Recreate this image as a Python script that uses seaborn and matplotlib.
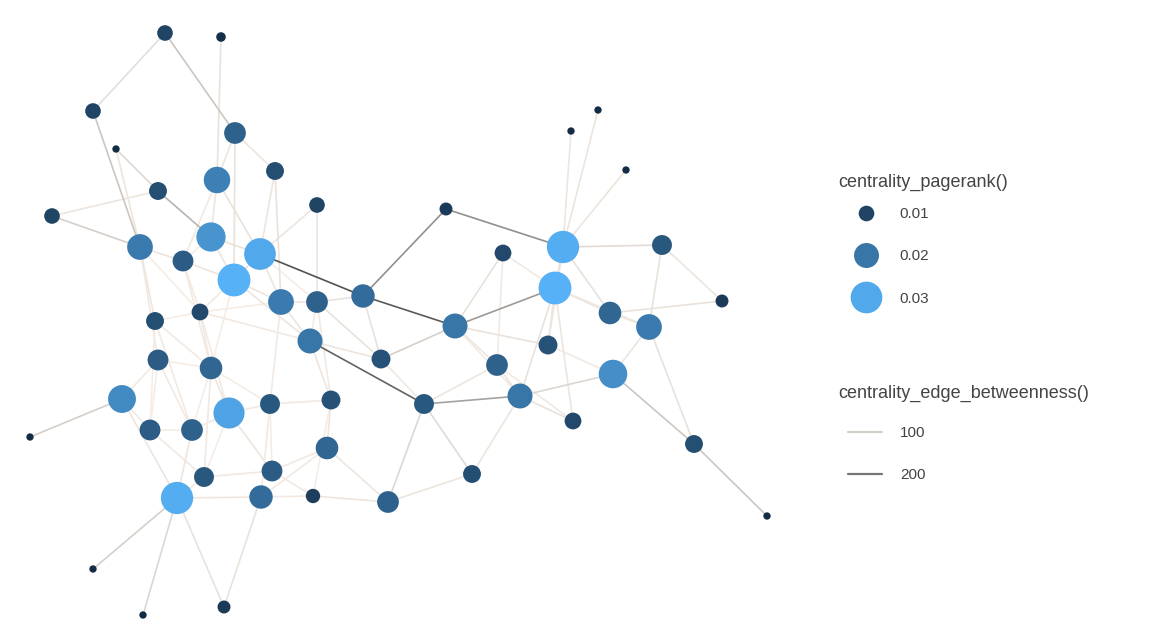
import numpy as np
import pandas as pd
import matplotlib
matplotlib.use("Agg")
import matplotlib.pyplot as plt
from matplotlib.colors import LinearSegmentedColormap, Normalize
from matplotlib.lines import Line2D
import seaborn as sns

# node layout (x, y) and pagerank of each node
node_x = [165, 221, 93, 116, 235, 217, 275, 158, 52, 317,
          140, 211, 260, 183, 234, 281, 317, 363, 155, 200,
          310, 158, 211, 381, 446, 503, 563, 555, 662, 722,
          610, 649, 455, 548, 497, 613, 520, 424, 573, 122,
          229, 270, 331, 30, 150, 192, 694, 327, 204, 272,
          472, 177, 261, 313, 388, 767, 93, 143, 224, 571,
          598, 626]
node_y = [33, 37, 111, 149, 133, 180, 171, 191, 216, 205,
          247, 237, 254, 261, 280, 302, 302, 296, 321, 312,
          341, 360, 368, 359, 209, 253, 247, 288, 245, 301,
          313, 327, 326, 345, 365, 374, 396, 404, 421, 399,
          413, 404, 400, 437, 430, 430, 444, 448, 477, 471,
          474, 498, 497, 496, 502, 516, 569, 615, 607, 131,
          110, 170]
pagerank = [0.010, 0.006, 0.010, 0.005, 0.016, 0.022, 0.012, 0.012, 0.010, 0.010,
            0.021, 0.026, 0.030, 0.015, 0.032, 0.021, 0.016, 0.018, 0.012, 0.011,
            0.020, 0.015, 0.017, 0.013, 0.008, 0.011, 0.031, 0.032, 0.014, 0.008,
            0.017, 0.021, 0.020, 0.013, 0.016, 0.025, 0.020, 0.014, 0.011, 0.024,
            0.029, 0.014, 0.013, 0.005, 0.015, 0.016, 0.012, 0.017, 0.014, 0.015,
            0.012, 0.031, 0.018, 0.009, 0.016, 0.005, 0.005, 0.005, 0.008, 0.005,
            0.005, 0.005]

# edges: source, target, edge betweenness
edge_from = [0, 0, 1, 2, 3, 3, 8, 8, 7, 4, 4, 5, 5, 6, 6, 9, 9, 10, 10, 10,
             11, 11, 12, 12, 12, 13, 13, 14, 14, 14, 15, 15, 16, 16, 15, 18, 18, 19, 19, 20,
             20, 20, 21, 21, 22, 22, 39, 39, 39, 40, 40, 40, 41, 41, 42, 42, 44, 45, 48, 48,
             49, 49, 47, 47, 51, 51, 51, 51, 52, 52, 53, 54, 54, 13, 19, 4, 5,
             17, 24, 17, 17, 23, 32, 32, 32, 32, 37, 37, 37, 36, 36, 36, 36, 36, 33, 33,
             26, 26, 26, 26, 26, 26, 27, 27, 28, 28, 30, 30, 31, 35, 46, 34, 33, 31,
             10, 18, 21, 21, 44, 22, 19, 13, 18, 22, 40, 41, 42, 16, 12, 14,
             23, 32, 25, 27, 34]
edge_to = [2, 4, 5, 10, 7, 10, 7, 10, 11, 6, 14, 12, 11, 12, 15, 16, 12, 13, 18, 21,
           12, 14, 14, 17, 15, 14, 19, 15, 20, 19, 16, 20, 17, 23, 41, 45, 22, 22, 40, 37,
           23, 42, 39, 45, 40, 48, 44, 51, 43, 45, 49, 41, 42, 52, 47, 16, 48, 51, 51, 49,
           53, 47, 52, 54, 52, 56, 57, 58, 58, 53, 54, 37, 50, 22, 20, 5, 13,
           24, 26, 32, 23, 32, 25, 27, 34, 33, 36, 34, 50, 50, 34, 35, 38, 27, 26, 27,
           27, 28, 59, 60, 61, 30, 30, 38, 29, 31, 31, 29, 35, 46, 55, 25, 35, 46,
           19, 19, 22, 44, 45, 41, 15, 11, 44, 45, 48, 49, 53, 20, 16, 22,
           37, 36, 27, 31, 38]
betweenness = [70, 110, 60, 110, 90, 50, 50, 100, 130, 50, 60, 60, 50, 50, 60, 50, 50, 50, 50, 40,
               60, 50, 60, 240, 50, 50, 40, 50, 50, 40, 50, 50, 60, 60, 40, 40, 40, 40, 40, 220,
               50, 50, 40, 40, 50, 40, 40, 50, 100, 40, 50, 40, 40, 40, 50, 40, 40, 50, 40, 40,
               40, 40, 40, 50, 50, 100, 90, 60, 60, 40, 50, 90, 50, 40, 40, 50, 40,
               170, 170, 230, 60, 100, 60, 160, 50, 60, 150, 50, 80, 50, 50, 90, 60, 60, 50, 50,
               60, 80, 50, 50, 50, 60, 50, 50, 50, 60, 50, 60, 50, 110, 110, 40, 40, 60,
               30, 30, 30, 30, 30, 30, 30, 30, 30, 30, 30, 30, 30, 30, 30, 30,
               40, 40, 40, 40, 40]

pr_ticks = [0.01, 0.02, 0.03]
eb_ticks = [100, 200]

nodes = pd.DataFrame({"x": node_x, "y": node_y, "pagerank": pagerank})

rows = []
for i, (a, b, w) in enumerate(zip(edge_from, edge_to, betweenness)):
    rows.append({"edge": i, "x": node_x[a], "y": node_y[a], "betweenness": w})
    rows.append({"edge": i, "x": node_x[b], "y": node_y[b], "betweenness": w})
edges = pd.DataFrame(rows)

node_cmap = LinearSegmentedColormap.from_list("pr", ["#132B43", "#56B1F7"])
edge_cmap = LinearSegmentedColormap.from_list(
    "eb", [(0.0, "#f9f0e8"), (0.3, "#dcd6d1"), (1.0, "#404040")])
pr_norm = (min(pagerank), max(pagerank))
eb_norm = (20, 260)
size_range = (28, 560)


def node_size(v):
    lo, hi = pr_norm
    return size_range[0] + (v - lo) / (hi - lo) * (size_range[1] - size_range[0])


sns.set_style("white")
plt.rcParams["font.family"] = ["Liberation Sans", "DejaVu Sans"]

fig = plt.figure(figsize=(11.65, 6.27), dpi=100)
ax = fig.add_axes([0, 0, 800 / 1165, 1])

sns.lineplot(data=edges, x="x", y="y", units="edge", estimator=None, sort=False,
             hue="betweenness", palette=edge_cmap, hue_norm=eb_norm,
             linewidth=1.2, legend=False, ax=ax, zorder=1)
sns.scatterplot(data=nodes, x="x", y="y", hue="pagerank", size="pagerank",
                palette=node_cmap, hue_norm=pr_norm, sizes=size_range, size_norm=pr_norm,
                linewidth=0, legend=False, ax=ax, zorder=3)

ax.set_xlim(0, 800)
ax.set_ylim(627, 0)
ax.set_axis_off()

# legends: titles as text, keys as untitled legends
txt_color = "#444444"
fig.text(838 / 1165, 1 - 182 / 627, "centrality_pagerank()", fontsize=13,
         color=txt_color, ha="left", va="center")
fig.text(838 / 1165, 1 - 393 / 627, "centrality_edge_betweenness()", fontsize=13,
         color=txt_color, ha="left", va="center")

pnorm = Normalize(*pr_norm)
pr_handles = [Line2D([], [], linestyle="none", marker="o", markeredgewidth=0,
                     markersize=np.sqrt(node_size(v)), color=node_cmap(pnorm(v)))
              for v in pr_ticks]
leg1 = fig.legend(pr_handles, [f"{v:.2f}" for v in pr_ticks],
                  loc="upper left", bbox_to_anchor=(0.7253, 1 - 201 / 627), frameon=False,
                  fontsize=11, labelspacing=1.85, handletextpad=1.15, borderaxespad=0)

enorm = Normalize(*eb_norm)
eb_handles = [Line2D([], [], color=edge_cmap(enorm(v)), linewidth=1.6) for v in eb_ticks]
leg2 = fig.legend(eb_handles, [str(v) for v in eb_ticks],
                  loc="upper left", bbox_to_anchor=(0.7227, 1 - 420 / 627), frameon=False,
                  fontsize=11, labelspacing=1.85, handlelength=2.25,
                  handletextpad=1.15, borderaxespad=0)
for leg in (leg1, leg2):
    for t in leg.get_texts():
        t.set_color(txt_color)

fig.savefig("out.png", dpi=100, facecolor="white")
